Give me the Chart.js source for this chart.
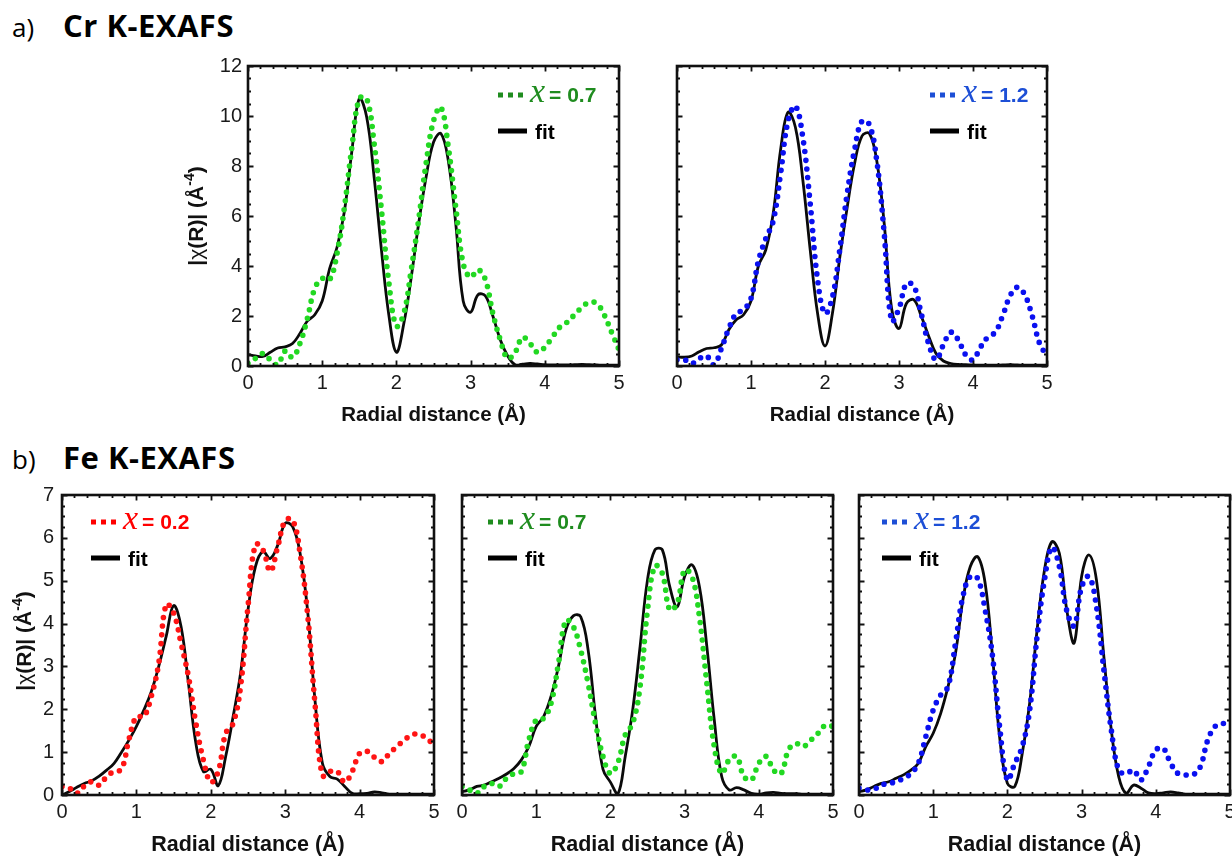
<!DOCTYPE html>
<html><head><meta charset="utf-8">
<script src="https://cdn.jsdelivr.net/npm/chart.js@4.4.1/dist/chart.umd.min.js"></script>
<style>
html,body{margin:0;padding:0;background:#fff;}
body{width:1232px;height:857px;position:relative;overflow:hidden;}
.hdr{position:absolute;font-family:'Open Sans',sans-serif;color:#000;white-space:nowrap;}
.lab{font-size:26px;line-height:26px;font-weight:400;}
.ttl{font-size:31px;line-height:31px;font-weight:700;letter-spacing:0.5px;}
canvas.pn{position:absolute;}
</style></head>
<body>
<div class="hdr lab" style="left:12px;top:14px;">a)</div>
<div class="hdr ttl" style="left:63px;top:9.5px;">Cr K-EXAFS</div>
<div class="hdr lab" style="left:12px;top:446px;">b)</div>
<div class="hdr ttl" style="left:63px;top:441.5px;">Fe K-EXAFS</div>
<script>
// ---------- data ----------
const R = [0,0.1,0.2,0.3,0.4,0.5,0.6,0.7,0.8,0.9,1.0,1.1,1.2,1.3,1.4,1.5,1.6,1.7,1.8,1.9,2.0,2.1,2.2,2.3,2.4,2.5,2.6,2.7,2.8,2.9,3.0,3.1,3.2,3.3,3.4,3.5,3.6,3.7,3.8,3.9,4.0,4.1,4.2,4.3,4.4,4.5,4.6,4.7,4.8,4.9,5.0];

const crX07Data = [0.1,0.3,0.5,0.25,0.05,0.6,0.35,0.9,1.9,3.1,3.5,3.45,4.5,6.35,8.75,10.7,10.7,8.9,6.2,3.3,1.6,2.1,3.85,5.85,8.1,9.8,10.35,8.75,6.35,4.1,3.55,3.85,3.45,2.1,1.05,0.3,0.55,1.15,0.9,0.55,0.75,1.15,1.55,1.75,2.05,2.35,2.55,2.5,2.05,1.35,0.65];
const crX07Fit  = [0.45,0.4,0.38,0.55,0.72,0.77,0.9,1.3,1.8,2.05,2.6,3.9,4.75,6.2,8.6,10.7,9.95,7.55,4.6,2.0,0.55,1.7,3.55,5.7,7.55,8.95,9.3,8.2,5.7,2.6,2.15,2.85,2.8,2.0,1.05,0.4,0.05,0.07,0.1,0.08,0.05,0.04,0.04,0.04,0.05,0.06,0.05,0.04,0.03,0.03,0.03];

const crX12Data = [0.25,0.25,0.1,0.3,0.4,0.05,0.7,1.5,2.1,2.25,2.7,4.2,5.1,5.8,7.7,9.8,10.4,9.15,6.5,3.45,2.1,2.75,4.65,6.9,8.65,9.8,9.65,8.2,5.3,1.8,2.3,3.3,3.2,2.1,0.9,0.25,0.85,1.35,1.05,0.45,0.25,0.75,1.15,1.35,2.0,2.8,3.15,2.85,2.0,0.9,0.4];
const crX12Fit  = [0.37,0.35,0.4,0.57,0.7,0.73,0.84,1.45,1.85,2.05,2.6,4.0,4.65,6.1,8.65,10.15,9.55,7.45,4.65,2.1,0.8,2.1,4.35,6.35,8.1,9.2,9.3,8.2,5.7,2.3,1.5,2.5,2.65,2.0,1.2,0.5,0.2,0.1,0.06,0.05,0.04,0.03,0.03,0.03,0.04,0.05,0.04,0.03,0.03,0.03,0.03];

const feX02Data = [0.2,0.16,0.04,0.21,0.31,0.23,0.43,0.55,0.6,1.3,1.83,1.83,2.3,3.07,4.45,4.25,3.54,2.76,1.67,0.82,0.3,0.55,1.44,1.67,2.53,4.4,5.85,5.72,5.22,5.8,6.4,6.42,5.64,4.24,2.14,0.45,0.55,0.55,0.3,0.55,0.97,1.02,0.88,0.78,0.97,1.13,1.28,1.4,1.42,1.32,1.17];
const feX02Fit  = [0.0,0.08,0.18,0.27,0.33,0.44,0.58,0.74,1.0,1.28,1.6,1.98,2.41,3.0,3.7,4.42,3.93,2.6,1.2,0.55,0.6,0.22,0.9,1.83,2.84,4.32,5.33,5.68,5.52,5.83,6.34,6.26,5.64,4.32,2.22,0.74,0.43,0.37,0.2,0.04,0.03,0.04,0.07,0.05,0.02,0.02,0.02,0.02,0.02,0.02,0.02];

const feX07Data = [0.2,0.12,0.04,0.2,0.27,0.2,0.39,0.5,0.55,1.28,1.75,1.79,2.14,3.07,4.08,3.93,3.38,2.6,1.67,0.9,0.5,0.75,1.4,1.67,2.53,4.32,5.35,5.17,4.32,4.47,5.25,5.1,4.16,2.6,1.13,0.5,0.82,0.9,0.43,0.35,0.74,0.9,0.58,0.5,1.05,1.2,1.13,1.28,1.44,1.63,1.6];
const feX07Fit  = [0.08,0.12,0.2,0.23,0.31,0.39,0.49,0.62,0.82,1.13,1.6,1.83,2.3,3.0,3.85,4.18,4.16,3.38,1.83,0.6,0.3,0.02,0.9,1.98,3.46,5.02,5.72,5.72,4.86,4.39,5.1,5.37,4.86,3.46,1.75,0.43,0.12,0.17,0.12,0.04,0.02,0.05,0.06,0.04,0.03,0.03,0.02,0.02,0.02,0.02,0.02];

const feX12Data = [0.16,0.12,0.13,0.23,0.27,0.31,0.39,0.5,0.74,1.36,1.98,2.33,2.53,3.54,4.63,5.1,5.05,4.32,3.23,1.52,0.35,0.74,1.13,1.98,3.7,5.02,5.78,5.33,4.3,3.95,4.85,5.1,4.4,2.92,1.52,0.58,0.5,0.58,0.35,0.66,1.05,1.09,0.74,0.5,0.47,0.47,0.66,1.28,1.6,1.67,1.6];
const feX12Fit  = [0.08,0.12,0.2,0.27,0.31,0.39,0.47,0.58,0.74,1.13,1.44,1.9,2.53,3.3,4.55,5.33,5.56,4.94,3.23,1.28,0.27,0.2,0.97,2.14,3.85,5.25,5.91,5.64,4.32,3.55,5.1,5.6,5.02,3.23,1.52,0.43,0.04,0.23,0.16,0.05,0.03,0.05,0.07,0.05,0.02,0.02,0.02,0.02,0.02,0.02,0.02];

const xTickLabels  = ['0','1','2','3','4','5'];
const crYTickLabels = ['0','2','4','6','8','10','12'];
const feYTickLabels = ['0','1','2','3','4','5','6','7'];
const legendLabels = ['0.7','1.2','0.2','0.7','1.2'];
const xTitle = 'Radial distance (Å)';
// y title pieces: [text, weight, superscript]
const yTitleParts = [['|','bold',false],['χ','normal',false],['(R)| (Å','bold',false],['-4','bold',true],[')','bold',false]];

// ---------- styling ----------
const GREEN = '#22d822', GREEN_T = '#1f8c1f';
const BLUE = '#0a10f0',  BLUE_T = '#1d4fd6';
const RED = '#ff1414',   RED_T = '#ff0000';
const SANS = "'Liberation Sans', Arial, sans-serif";
const SERIF = "'Liberation Serif', 'Times New Roman', serif";

const frameTicks = {
  id: 'frameTicks',
  afterDatasetsDraw(chart, args, o) {
    const {ctx, chartArea: a, scales: {x, y}} = chart;
    ctx.save();
    ctx.strokeStyle = '#111';
    ctx.lineWidth = 1.8;
    ctx.beginPath();
    const xStepMinor = 1/6;
    for (let i = 0; i <= 30; i++) {
      const v = i * xStepMinor;
      const len = (i % 6 === 0) ? 5.5 : 3;
      const px = Math.round(x.getPixelForValue(v)) + 0.5;
      ctx.moveTo(px, a.bottom); ctx.lineTo(px, a.bottom - len);
      ctx.moveTo(px, a.top); ctx.lineTo(px, a.top + len);
    }
    const nMin = Math.round(o.ymax / o.yMinor);
    const per = Math.round(o.yMajor / o.yMinor);
    for (let i = 0; i <= nMin; i++) {
      const v = i * o.yMinor;
      const len = (i % per === 0) ? 5.5 : 3;
      const py = Math.round(y.getPixelForValue(v)) + 0.5;
      ctx.moveTo(a.left, py); ctx.lineTo(a.left + len, py);
      ctx.moveTo(a.right, py); ctx.lineTo(a.right - len, py);
    }
    ctx.stroke();
    ctx.lineWidth = 2.6;
    ctx.strokeRect(a.left, a.top, a.right - a.left, a.bottom - a.top);
    ctx.restore();
  }
};

const yTitlePlugin = {
  id: 'yTitle',
  afterDraw(chart, args, o) {
    if (!o.show) return;
    const {ctx, chartArea: a} = chart;
    const fs = 21, sfs = 14;
    ctx.save();
    ctx.translate(a.left - o.dx, (a.top + a.bottom) / 2 + o.dy);
    ctx.rotate(-Math.PI / 2);
    ctx.fillStyle = '#111';
    ctx.textBaseline = 'alphabetic';
    ctx.textAlign = 'left';
    const fontOf = (p) => (p[1] === 'bold' ? 'bold ' : '') + (p[2] ? sfs : fs) + 'px ' + SANS;
    let total = 0;
    yTitleParts.forEach(p => { ctx.font = fontOf(p); total += ctx.measureText(p[0]).width; });
    let tx = -total / 2;
    yTitleParts.forEach(p => {
      ctx.font = fontOf(p);
      ctx.fillText(p[0], tx, p[2] ? -9 : 0);
      tx += ctx.measureText(p[0]).width;
    });
    ctx.restore();
  }
};

const exafsLegend = {
  id: 'exafsLegend',
  afterDraw(chart, args, o) {
    const {ctx, chartArea: a} = chart;
    const x0 = o.fromRight ? a.right - o.dx : a.left + o.dx;
    const y1 = a.top + o.dy1, y2 = a.top + o.dy2;
    ctx.save();
    ctx.fillStyle = o.color;
    for (let i = 0; i < 3; i++) ctx.fillRect(x0 + i * 10, y1 - 2.5, 5, 5);
    ctx.textBaseline = 'alphabetic';
    ctx.font = 'italic 34px ' + SERIF;
    let tx = x0 + 32;
    ctx.fillText('x', tx, y1 + 7);
    tx += ctx.measureText('x').width + 4;
    ctx.font = 'bold 21px ' + SANS;
    ctx.fillText('= ' + o.label, tx, y1 + 7);
    ctx.fillStyle = '#000';
    ctx.fillRect(x0, y2 - 2.5, 29, 5);
    ctx.font = 'bold 21px ' + SANS;
    ctx.fillText('fit', x0 + 37, y2 + 7.5);
    ctx.restore();
  }
};

function makePanel(cfg) {
  const cv = document.createElement('canvas');
  const W = (cfg.R - cfg.L) + 70 + 15, H = (cfg.B - cfg.T) + 15 + 70;
  cv.className = 'pn';
  cv.width = W; cv.height = H;
  cv.style.left = (cfg.L - 70) + 'px';
  cv.style.top = (cfg.T - 15) + 'px';
  cv.style.width = W + 'px'; cv.style.height = H + 'px';
  document.body.appendChild(cv);
  const pts = (arr) => arr.map((v, i) => ({x: R[i], y: v}));
  new Chart(cv.getContext('2d'), {
    type: 'line',
    data: {
      datasets: [
        {data: pts(cfg.data), borderColor: cfg.dot, borderWidth: 5.6, borderDash: [0, 8.8],
         borderCapStyle: 'round', pointRadius: 0, tension: 0.4, fill: false},
        {data: pts(cfg.fit), borderColor: '#0a0a0a', borderWidth: 2.8, pointRadius: 0,
         tension: 0.4, fill: false, borderJoinStyle: 'round'}
      ]
    },
    plugins: [frameTicks, exafsLegend, yTitlePlugin],
    options: {
      responsive: false, animation: false, devicePixelRatio: 1, events: [],
      layout: {padding: {left: 0, top: 15, right: 15, bottom: 0}},
      plugins: {
        legend: {display: false}, tooltip: {enabled: false},
        frameTicks: {ymax: cfg.ymax, yMajor: cfg.yMajor, yMinor: cfg.yMinor},
        exafsLegend: {color: cfg.legColor, label: cfg.label, fromRight: cfg.fromRight,
                      dx: cfg.legDx, dy1: cfg.legDy1, dy2: cfg.legDy2},
        yTitle: {show: cfg.showY, dx: cfg.yTitleDx, dy: cfg.yTitleDy}
      },
      scales: {
        x: {
          type: 'linear', min: 0, max: 5,
          grid: {display: false, drawTicks: false}, border: {display: false},
          ticks: {stepSize: 1, padding: 5, color: '#1a1a1a', maxRotation: 0,
                  font: {family: SANS, size: 20},
                  callback: (v) => xTickLabels[Math.round(v)]},
          title: {display: true, text: xTitle, color: '#111',
                  font: {family: SANS, size: cfg.xTitleSize, weight: 'bold'},
                  padding: {top: 0, bottom: cfg.xTitlePad}},
          afterFit: (s) => { s.height = 70; s.paddingLeft = 0; s.paddingRight = 0; }
        },
        y: {
          type: 'linear', min: 0, max: cfg.ymax,
          grid: {display: false, drawTicks: false}, border: {display: false},
          ticks: {display: cfg.showY, stepSize: cfg.yMajor, padding: cfg.yTickPad, color: '#1a1a1a',
                  font: {family: SANS, size: 20},
                  callback: (v) => cfg.yLabels[Math.round(v / cfg.yMajor)]},
          title: {display: false},
          afterFit: (s) => { s.width = 70; s.paddingTop = 0; s.paddingBottom = 0; }
        }
      }
    }
  });
}

const topCommon = {T: 66, B: 366, ymax: 12, yMajor: 2, yMinor: 0.5, yLabels: crYTickLabels,
  fromRight: true, legDx: 121, legDy1: 29, legDy2: 65, xTitlePad: 8, xTitleSize: 20.5,
  yTickPad: 6, yTitleDx: 45, yTitleDy: 0};
const botCommon = {T: 495, B: 795, ymax: 7, yMajor: 1, yMinor: 0.25, yLabels: feYTickLabels,
  fromRight: false, legDy1: 27, legDy2: 63, xTitlePad: 7, xTitleSize: 21.5,
  yTickPad: 8, yTitleDx: 31, yTitleDy: -4};

makePanel(Object.assign({}, topCommon, {L: 248, R: 619, data: crX07Data, fit: crX07Fit, dot: GREEN, legColor: GREEN_T, label: legendLabels[0], showY: true}));
makePanel(Object.assign({}, topCommon, {L: 677, R: 1047, data: crX12Data, fit: crX12Fit, dot: BLUE, legColor: BLUE_T, label: legendLabels[1], showY: false, legDx: 117}));
makePanel(Object.assign({}, botCommon, {L: 62, R: 434, data: feX02Data, fit: feX02Fit, dot: RED, legColor: RED_T, label: legendLabels[2], showY: true, legDx: 29}));
makePanel(Object.assign({}, botCommon, {L: 462, R: 833, data: feX07Data, fit: feX07Fit, dot: GREEN, legColor: GREEN_T, label: legendLabels[3], showY: false, legDx: 26}));
makePanel(Object.assign({}, botCommon, {L: 859, R: 1230, data: feX12Data, fit: feX12Fit, dot: BLUE, legColor: BLUE_T, label: legendLabels[4], showY: false, legDx: 23}));
</script>
</body></html>
